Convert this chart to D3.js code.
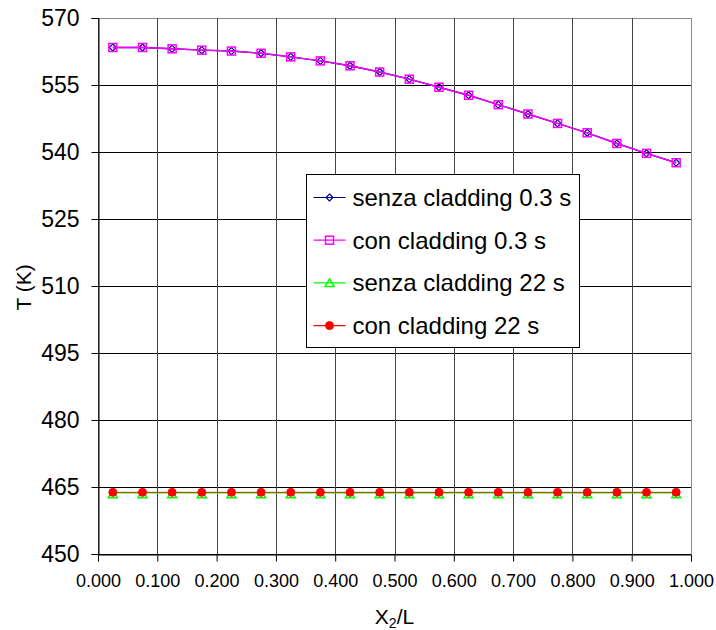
<!DOCTYPE html>
<html>
<head>
<meta charset="utf-8">
<script src="https://cdn.jsdelivr.net/npm/d3@7"></script>
<style>
  body { margin: 0; background: #fff; }
  text { font-family: "Liberation Sans", Arial, sans-serif; }
</style>
</head>
<body>
<div id="chart"></div>
<script>
// data
const xPos = [0.025, 0.075, 0.125, 0.175, 0.225, 0.275, 0.325, 0.375, 0.425, 0.475,
              0.525, 0.575, 0.625, 0.675, 0.725, 0.775, 0.825, 0.875, 0.925, 0.975];
const senza03 = [563.4, 563.4, 563.1, 562.8, 562.6, 562.1, 561.3, 560.4, 559.3, 557.9,
                 556.3, 554.5, 552.7, 550.6, 548.5, 546.4, 544.3, 541.9, 539.7, 537.6];
const con03 = [563.4, 563.4, 563.1, 562.8, 562.6, 562.1, 561.3, 560.4, 559.3, 557.9,
               556.3, 554.5, 552.7, 550.6, 548.5, 546.4, 544.3, 541.9, 539.7, 537.6];
const senza22 = [463.7, 463.7, 463.7, 463.7, 463.7, 463.7, 463.7, 463.7, 463.7, 463.7,
                 463.7, 463.7, 463.7, 463.7, 463.7, 463.7, 463.7, 463.7, 463.7, 463.7];
const con22 = [463.8, 463.8, 463.8, 463.8, 463.8, 463.8, 463.8, 463.8, 463.8, 463.8,
               463.8, 463.8, 463.8, 463.8, 463.8, 463.8, 463.8, 463.8, 463.8, 463.8];
const yTicks = [450, 465, 480, 495, 510, 525, 540, 555, 570];
const xTicks = [0, 0.1, 0.2, 0.3, 0.4, 0.5, 0.6, 0.7, 0.8, 0.9, 1.0];

const series = [
  {name: "senza cladding 0.3 s", values: senza03, color: "#000080", marker: "diamond"},
  {name: "con cladding 0.3 s", values: con03, color: "#ff00ff", marker: "square"},
  {name: "senza cladding 22 s", values: senza22, color: "#00ff00", marker: "triangle"},
  {name: "con cladding 22 s", values: con22, color: "#ff0000", marker: "dot", lineOpacity: 0.65}
];

const width = 716, height = 630;
const margin = {top: 18, right: 25, bottom: 76, left: 98};
const w = width - margin.left - margin.right,
      h = height - margin.top - margin.bottom;

const svg = d3.select("#chart").append("svg")
    .attr("width", width)
    .attr("height", height);
const g = svg.append("g")
    .attr("transform", `translate(${margin.left},${margin.top})`);

const x = d3.scaleLinear().domain([0, 1]).range([0, w]);
const y = d3.scaleLinear().domain([450, 570]).range([h, 0]);

// grid
g.append("g").selectAll("line").data(yTicks).join("line")
    .attr("x1", 0).attr("x2", w)
    .attr("y1", d => Math.round(y(d)) + 0.5).attr("y2", d => Math.round(y(d)) + 0.5)
    .attr("stroke", d => d === 570 ? "#888" : "#000");
g.append("g").selectAll("line").data(xTicks).join("line")
    .attr("x1", d => Math.round(x(d)) + 0.5).attr("x2", d => Math.round(x(d)) + 0.5)
    .attr("y1", 0).attr("y2", h)
    .attr("stroke", d => d === 1 ? "#888" : "#444");

// axes
const yAxis = g.append("g")
    .attr("transform", "translate(0.5,0)")
    .call(d3.axisLeft(y).tickValues(yTicks).tickSize(7).tickPadding(12).tickFormat(d3.format("d")));
const xAxis = g.append("g")
    .attr("transform", `translate(0,${Math.round(h) + 0.5})`)
    .call(d3.axisBottom(x).tickValues(xTicks).tickSize(7).tickPadding(16).tickFormat(d3.format(".3f")));
[yAxis, xAxis].forEach(a => {
  a.select(".domain").attr("stroke", "#000");
  a.selectAll(".tick line").attr("stroke", "#000");
  a.selectAll("text").attr("fill", "#000")
    .style("font-family", "'Liberation Sans', Arial, sans-serif");
});
yAxis.selectAll("text").style("font-size", "23px");
xAxis.selectAll("text").style("font-size", "18px").attr("dy", "0.55em");

// axis titles
g.append("text")
    .attr("transform", `translate(-67,${y(509.7)}) rotate(-90)`)
    .attr("text-anchor", "middle")
    .style("font-size", "21px")
    .text("T (K)");
const xt = g.append("text")
    .attr("x", x(0.5))
    .attr("y", h + 70)
    .attr("text-anchor", "middle")
    .style("font-size", "21px");
xt.append("tspan").text("X");
xt.append("tspan").attr("dy", 4).style("font-size", "14px").text("2");
xt.append("tspan").attr("dy", -4).text("/L");

// markers
function drawMarker(sel, s, cx, cy) {
  if (s.marker === "diamond") {
    sel.append("path")
      .attr("d", `M${cx},${cy - 3.5}L${cx + 3.5},${cy}L${cx},${cy + 3.5}L${cx - 3.5},${cy}Z`)
      .attr("fill", "none").attr("stroke", s.color).attr("stroke-width", 1.2);
  } else if (s.marker === "square") {
    sel.append("rect")
      .attr("x", cx - 4).attr("y", cy - 4).attr("width", 8).attr("height", 8)
      .attr("fill", "none").attr("stroke", s.color).attr("stroke-width", 1.5);
  } else if (s.marker === "triangle") {
    sel.append("path")
      .attr("d", `M${cx},${cy - 4}L${cx + 4.5},${cy + 3.5}L${cx - 4.5},${cy + 3.5}Z`)
      .attr("fill", "none").attr("stroke", s.color).attr("stroke-width", 1.5);
  } else {
    sel.append("circle")
      .attr("cx", cx).attr("cy", cy).attr("r", 4)
      .attr("fill", s.color).attr("stroke", s.color);
  }
}

const line = d3.line().x(d => x(d[0])).y(d => y(d[1]));
series.forEach(s => {
  const pts = xPos.map((v, i) => [v, s.values[i]]);
  const sg = g.append("g");
  sg.append("path").datum(pts)
    .attr("d", line)
    .attr("fill", "none")
    .attr("stroke", s.color)
    .attr("stroke-opacity", s.lineOpacity || 1)
    .attr("stroke-width", 1.4);
  pts.forEach(p => drawMarker(sg, s, x(p[0]), y(p[1]) + (s.marker === "triangle" ? 1.5 : 0)));
});

// legend
const lg = svg.append("g").attr("transform", "translate(306.5,174.5)");
lg.append("rect")
    .attr("width", 273).attr("height", 173)
    .attr("fill", "#fff").attr("stroke", "#000").attr("stroke-width", 1);
series.forEach((s, i) => {
  const ly = 23 + i * 42.7;
  lg.append("line")
    .attr("x1", 7).attr("x2", 39)
    .attr("y1", ly).attr("y2", ly)
    .attr("stroke", s.color).attr("stroke-width", 1.2);
  drawMarker(lg, s, 23, ly);
  lg.append("text")
    .attr("x", 46).attr("y", ly)
    .attr("dy", "0.35em")
    .style("font-size", "24px")
    .text(s.name);
});
</script>
</body>
</html>
